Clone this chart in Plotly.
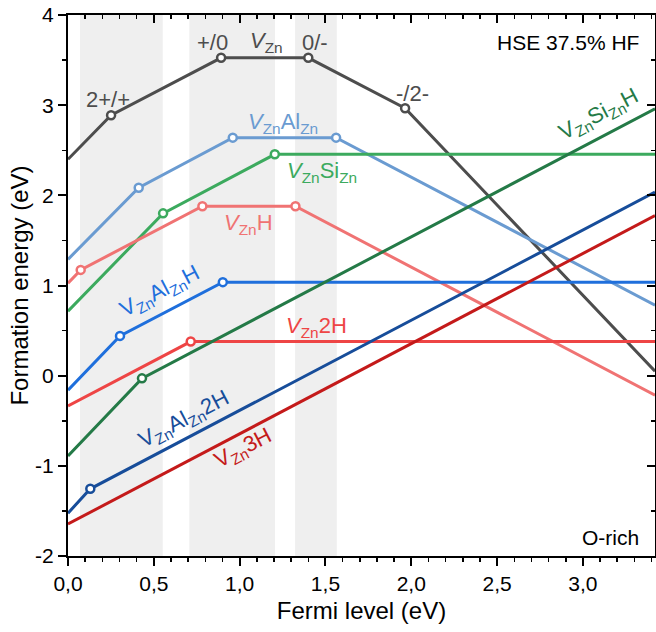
import plotly.graph_objects as go

# ---------------- data ----------------
band_x0 = [0.07, 0.707, 1.323]
band_x1 = [0.552, 1.206, 1.566]

vzn_x = [0.0, 0.251, 0.892, 1.40, 1.964, 3.42]
vzn_y = [2.40, 2.888, 3.525, 3.525, 2.966, 0.05]

vznalzn_x = [0.0, 0.412, 0.960, 1.562, 3.42]
vznalzn_y = [1.29, 2.085, 2.64, 2.64, 0.782]

vznsizn_x = [0.0, 0.554, 1.205, 3.42]
vznsizn_y = [0.715, 1.80, 2.455, 2.455]

vznh_x = [0.0, 0.074, 0.783, 1.325, 3.42]
vznh_y = [1.025, 1.173, 1.879, 1.879, -0.216]

vznalznh_x = [0.0, 0.303, 0.902, 3.42]
vznalznh_y = [-0.16, 0.441, 1.037, 1.037]

vzn2h_x = [0.0, 0.715, 3.42]
vzn2h_y = [-0.335, 0.378, 0.378]

vznsiznh_x = [0.0, 0.431, 3.42]
vznsiznh_y = [-0.89, -0.03, 2.96]

vznalzn2h_x = [0.0, 0.130, 3.42]
vznalzn2h_y = [-1.525, -1.255, 2.035]

vzn3h_x = [0.0, 3.42]
vzn3h_y = [-1.645, 1.775]

series_names = ["VZn", "VZnAlZn", "VZnSiZn", "VZnH", "VZnAlZnH",
                "VZn2H", "VZnSiZnH", "VZnAlZn2H", "VZn3H"]
series_x = [vzn_x, vznalzn_x, vznsizn_x, vznh_x, vznalznh_x,
            vzn2h_x, vznsiznh_x, vznalzn2h_x, vzn3h_x]
series_y = [vzn_y, vznalzn_y, vznsizn_y, vznh_y, vznalznh_y,
            vzn2h_y, vznsiznh_y, vznalzn2h_y, vzn3h_y]
series_colors = ["#4d4d4d", "#6a9bd1", "#3caa5e", "#f07373", "#1f6fdc",
                 "#ee4545", "#247a47", "#174d9a", "#c41a1a"]

x_tickvals = [0.0, 0.5, 1.0, 1.5, 2.0, 2.5, 3.0]
x_ticktext = ["0,0", "0,5", "1,0", "1,5", "2,0", "2,5", "3,0"]
y_tickvals = [-2, -1, 0, 1, 2, 3, 4]
y_ticktext = ["-2", "-1", "0", "1", "2", "3", "4"]

x_range = [0, 3.42]
y_range = [-2, 4]

# ---------------- figure ----------------
FONT = "Liberation Sans, Arial, sans-serif"
fig = go.Figure()

for nm, xs, ys, col in zip(series_names, series_x, series_y, series_colors):
    fig.add_trace(go.Scatter(x=xs, y=ys, mode="lines", name=nm,
                             line=dict(color=col, width=3),
                             showlegend=False, hoverinfo="skip"))
for nm, xs, ys, col in zip(series_names, series_x, series_y, series_colors):
    if len(xs) > 2:
        fig.add_trace(go.Scatter(x=xs[1:-1], y=ys[1:-1], mode="markers",
                                 name=nm + " levels",
                                 marker=dict(symbol="circle", size=8, color="white",
                                             line=dict(color=col, width=2.5)),
                                 showlegend=False, hoverinfo="skip"))

# dummy trace to create mirrored axes with inward ticks
fig.add_trace(go.Scatter(x=[None], y=[None], xaxis="x2", yaxis="y2",
                         showlegend=False, hoverinfo="skip"))

for a, b in zip(band_x0, band_x1):
    fig.add_shape(type="rect", xref="x", yref="paper", x0=a, x1=b, y0=0, y1=1,
                  fillcolor="#efefef", line=dict(width=0), layer="below")

c = dict(zip(series_names, series_colors))
ann = [
    ("2+/+", 0.233, 3.06, c["VZn"], 0),
    ("+/0", 0.839, 3.70, c["VZn"], 0),
    ("<i>V</i><sub>Zn</sub>", 1.154, 3.70, c["VZn"], 0),
    ("0/-", 1.44, 3.70, c["VZn"], 0),
    ("-/2-", 2.005, 3.124, c["VZn"], 0),
    ("<i>V</i><sub>Zn</sub>Al<sub>Zn</sub>", 1.253, 2.80, c["VZnAlZn"], 0),
    ("<i>V</i><sub>Zn</sub>Si<sub>Zn</sub>", 1.48, 2.26, c["VZnSiZn"], 0),
    ("<i>V</i><sub>Zn</sub>H", 1.049, 1.68, c["VZnH"], 0),
    ("V<sub>Zn</sub>Al<sub>Zn</sub>H", 0.536, 0.93, c["VZnAlZnH"], -27.7),
    ("<i>V</i><sub>Zn</sub>2H", 1.445, 0.54, c["VZn2H"], 0),
    ("V<sub>Zn</sub>Si<sub>Zn</sub>H", 3.094, 2.89, c["VZnSiZnH"], -27.7),
    ("V<sub>Zn</sub>Al<sub>Zn</sub>2H", 0.676, -0.49, c["VZnAlZn2H"], -27.7),
    ("V<sub>Zn</sub>3H", 1.02, -0.81, c["VZn3H"], -27.7),
]
for t, x, y, col, ang in ann:
    fig.add_annotation(x=x, y=y, xref="x", yref="y", text=t, showarrow=False,
                       textangle=ang, font=dict(family=FONT, size=22, color=col))

fig.add_annotation(x=0.977, y=3.70, xref="paper", yref="y", text="HSE 37.5% HF",
                   showarrow=False, xanchor="right",
                   font=dict(family=FONT, size=21, color="black"))
fig.add_annotation(x=0.977, y=-1.80, xref="paper", yref="y", text="O-rich",
                   showarrow=False, xanchor="right",
                   font=dict(family=FONT, size=21, color="black"))

axis_common = dict(showgrid=False, zeroline=False, automargin=False,
                   tickcolor="black", tickwidth=2, ticklen=8)

fig.update_layout(
    width=656, height=632,
    margin=dict(l=68, r=1, t=15, b=76),
    plot_bgcolor="white", paper_bgcolor="white",
    font=dict(family=FONT, size=21, color="black"),
    xaxis=dict(range=x_range, tickvals=x_tickvals, ticktext=x_ticktext,
               ticks="outside", showline=True, mirror=True,
               linecolor="black", linewidth=2, ticklabeloverflow="allow",
               minor=dict(dtick=0.1, ticks="outside", ticklen=4, tickwidth=1.5,
                          tickcolor="black", tick0=0),
               title=dict(text="Fermi level (eV)", font=dict(size=24), standoff=8),
               tickfont=dict(size=21), **axis_common),
    yaxis=dict(range=y_range, tickvals=y_tickvals, ticktext=y_ticktext,
               ticks="outside", showline=True, mirror=True,
               linecolor="black", linewidth=2, ticklabeloverflow="allow",
               minor=dict(dtick=0.5, ticks="outside", ticklen=4, tickwidth=1.5,
                          tickcolor="black", tick0=0),
               title=dict(text="Formation energy (eV)", font=dict(size=24), standoff=0),
               tickfont=dict(size=21), **axis_common),
    xaxis2=dict(range=x_range, overlaying="x", side="top", anchor="y",
                tickvals=x_tickvals, showticklabels=False, ticks="inside",
                showline=False,
                minor=dict(dtick=0.1, ticks="inside", ticklen=4, tickwidth=1.5,
                           tickcolor="black", tick0=0),
                **axis_common),
    yaxis2=dict(range=y_range, overlaying="y", side="right", anchor="x",
                tickvals=y_tickvals, showticklabels=False, ticks="inside",
                showline=False,
                minor=dict(dtick=0.5, ticks="inside", ticklen=4, tickwidth=1.5,
                           tickcolor="black", tick0=0),
                **axis_common),
)

# remove the page's default body margin so the figure fills the window exactly
fig.write_html("out.html",
               config={"displayModeBar": False, "staticPlot": True},
               post_script="document.body.style.margin='0';document.body.style.overflow='hidden';")
